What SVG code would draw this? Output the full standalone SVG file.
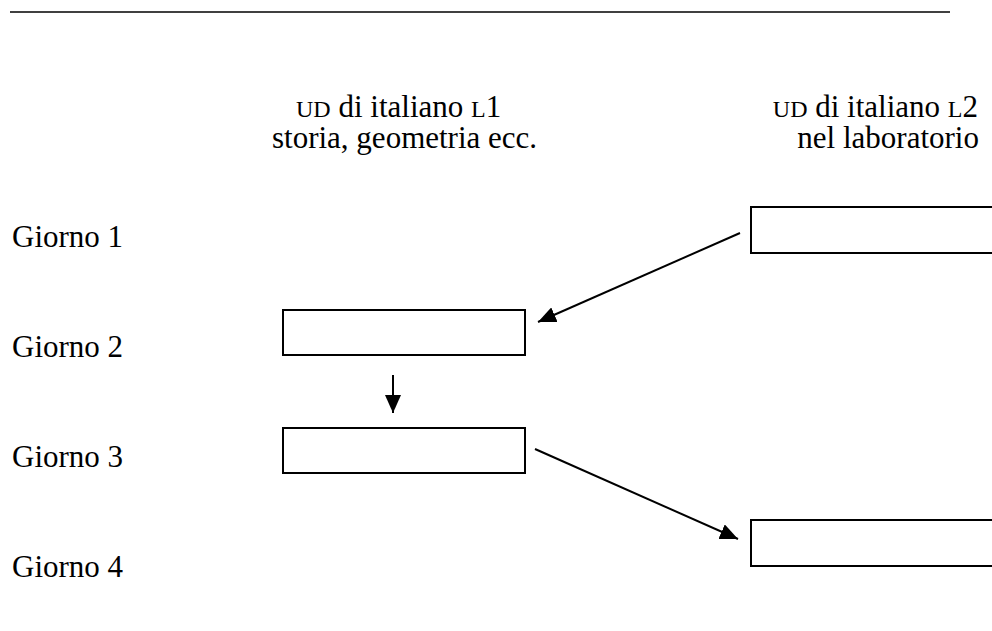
<svg xmlns="http://www.w3.org/2000/svg" width="992" height="631" viewBox="0 0 992 631">
<style>
text{font-family:"Liberation Serif","Times New Roman",serif;font-size:31px;fill:#000}
.sc{font-size:24px}
.box{fill:#fff;stroke:#000;stroke-width:2}
.conn{stroke:#000;stroke-width:2;fill:none}
</style>
<defs>
<marker id="ahb" markerWidth="18" markerHeight="16" refX="18" refY="8" orient="auto" markerUnits="userSpaceOnUse" viewBox="0 0 18 16">
<path d="M0,0 L18,8 L0,16 Z" fill="#000"/>
</marker>
</defs>
<rect width="992" height="631" fill="#fff"/>
<line x1="10" y1="12" x2="950" y2="12" stroke="#000" stroke-width="1.5"/>
<g id="headers">
<text x="296" y="117"><tspan class="sc">UD</tspan> di italiano <tspan class="sc">L</tspan>1</text>
<text x="272" y="148">storia, geometria ecc.</text>
<text x="978" y="117" text-anchor="end"><tspan class="sc">UD</tspan> di italiano <tspan class="sc">L</tspan>2</text>
<text x="979" y="148" text-anchor="end">nel laboratorio</text>
</g>
<g id="days">
<text x="12" y="247">Giorno 1</text>
<text x="12" y="357">Giorno 2</text>
<text x="12" y="467">Giorno 3</text>
<text x="12" y="577">Giorno 4</text>
</g>
<g id="n1"><rect class="box" x="751" y="207" width="260" height="46"/></g>
<g id="n2"><rect class="box" x="283" y="310" width="242" height="45"/></g>
<g id="n3"><rect class="box" x="283" y="428" width="242" height="45"/></g>
<g id="n4"><rect class="box" x="751" y="520" width="260" height="46"/></g>
<g id="connectors">
<line class="conn" x1="740" y1="233" x2="538" y2="322" marker-end="url(#ahb)"/>
<line class="conn" x1="393" y1="375" x2="393" y2="413" marker-end="url(#ahb)"/>
<line class="conn" x1="535" y1="449" x2="738" y2="539" marker-end="url(#ahb)"/>
</g>
</svg>
